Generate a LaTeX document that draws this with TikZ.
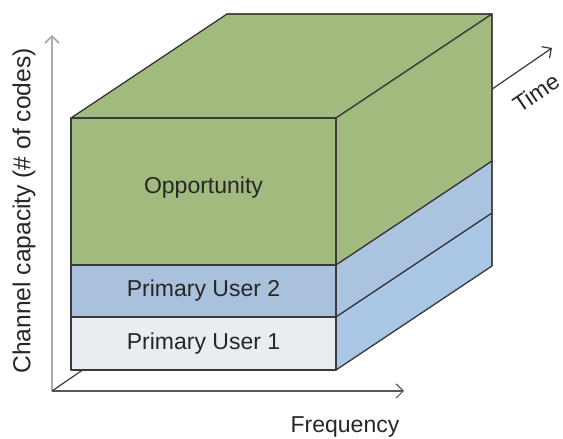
\documentclass[tikz,border=0pt]{standalone}
\usepackage{fontspec}
\setmainfont{Liberation Sans}
\usepackage{xcolor}
\usetikzlibrary{arrows.meta, positioning}

\definecolor{oppgreen}{HTML}{A2BA7E}
\definecolor{publuefront}{HTML}{A9C1DC}
\definecolor{publuetwo}{HTML}{AAC4E0}
\definecolor{pubblueone}{HTML}{ABC7E6}
\definecolor{pugray}{HTML}{E9EDF1}
\definecolor{edgegray}{HTML}{3A3A3A}
\definecolor{textgray}{HTML}{262626}

\tikzset{
    face/.style={draw=edgegray, line width=0.55pt, line join=round},
    axis/.style={->, line width=0.6pt},
    lbl/.style={text=textgray, inner sep=0pt}
}

\begin{document}
\begin{tikzpicture}[x=5pt, y=5pt, font=\fontsize{11.5}{14}\selectfont,
    >={Straight Barb[length=3.5pt, width=7pt]}]
    \useasboundingbox (0,0) rectangle (56.3,43.9);

    % Axes
    \coordinate (origin) at (5.2,4.8);
    \coordinate (captip) at (5.2,40.4);
    \coordinate (freqtip) at (40.4,4.8);
    \coordinate (timetip) at (55.2,39.1);
    \draw[axis, gray!65, line width=0.8pt] (origin) -- (captip);
    \draw[axis, edgegray!85] (origin) -- (freqtip);
    \draw[axis, edgegray] (origin) -- (timetip);

    % Box: top and right side
    \fill[face, fill=oppgreen] (7.1,32.1) -- (33.6,32.1) -- (49.2,42.5) -- (22.7,42.5) -- cycle;
    \fill[face, fill=oppgreen] (33.6,17.4) -- (33.6,32.1) -- (49.2,42.5) -- (49.2,27.8) -- cycle;
    \fill[face, fill=publuetwo] (33.6,12.2) -- (33.6,17.4) -- (49.2,27.8) -- (49.2,22.6) -- cycle;
    \fill[face, fill=pubblueone] (33.6,6.9) -- (33.6,12.2) -- (49.2,22.6) -- (49.2,17.3) -- cycle;
    \draw[face] (7.1,32.1) -- (33.6,32.1) -- (49.2,42.5) -- (22.7,42.5) -- cycle;
    \draw[face] (33.6,6.9) -- (49.2,17.3) -- (49.2,42.5);
    \draw[face] (33.6,17.4) -- (49.2,27.8);
    \draw[face] (33.6,12.2) -- (49.2,22.6);

    % Box: front layers
    \filldraw[face, fill=oppgreen] (7.1,17.4) rectangle (33.6,32.1);
    \filldraw[face, fill=publuefront] (7.1,12.2) rectangle (33.6,17.4);
    \filldraw[face, fill=pugray] (7.1,6.9) rectangle (33.6,12.2);

    \node[lbl] (opp) at (20.35,25.1) {Opportunity};
    \node[lbl] (pu2) at (20.35,14.8) {Primary User 2};
    \node[lbl] (pu1) at (20.35,9.55) {Primary User 1};

    % Axis labels
    \node[lbl, rotate=90, font=\fontsize{12.3}{14}\selectfont] (caplabel) at (2.4,22.8) {Channel capacity (\# of codes)};
    \node[lbl] (freqlabel) at (34.5,1.2) {Frequency};
    \node[lbl, rotate=34] (timelabel) at (53.6,34.6) {Time};
\end{tikzpicture}
\end{document}
